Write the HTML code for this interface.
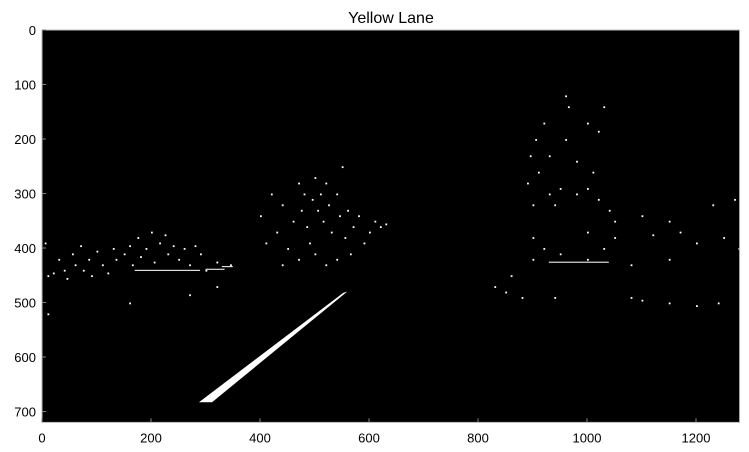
<!DOCTYPE html>
<html><head><meta charset="utf-8"><style>
html,body{margin:0;padding:0;background:#fff;}
svg{display:block;font-family:"Liberation Sans","DejaVu Sans",sans-serif;}
</style></head><body>
<svg id="chart" width="749" height="452" viewBox="0 0 749 452" xmlns="http://www.w3.org/2000/svg">
<text x="391" y="23" font-size="16" text-anchor="middle" fill="#000">Yellow Lane</text>
<g id="plot"></g>
</svg>
<script>
const imgW = 1280, imgH = 720;
const xTicks = [0,200,400,600,800,1000,1200];
const yTicks = [0,100,200,300,400,500,600,700];
const laneX = [288,312,560,553];
const laneY = [683,683,480,482];
const speckX = [5,10,20,30,40,45,55,60,70,75,85,90,100,110,120,130,135,150,160,165,175,180,190,200,205,215,225,230,240,250,260,270,280,290,300,320,345,10,160,270,320,
400,410,420,430,440,450,460,470,475,480,485,490,495,500,505,510,515,520,525,530,540,545,550,555,560,565,570,580,590,600,610,620,630,470,520,500,440,540,
960,965,1030,920,1000,905,960,1020,895,910,930,980,1010,890,930,950,980,1000,1020,900,940,1040,1100,1150,1230,1270,1278,1000,1050,1120,1170,1200,1250,950,1000,1030,1080,1150,900,860,830,850,880,940,1100,1150,1200,1240,1080,900,920,1050];
const speckY = [390,450,445,420,440,455,410,430,395,440,420,450,405,430,445,400,420,410,395,430,380,415,400,370,425,390,375,410,395,420,400,430,395,410,440,425,430,520,500,485,470,
340,390,300,370,320,400,350,280,330,300,360,390,310,270,330,300,350,280,320,370,300,340,250,380,330,410,360,340,390,370,350,360,355,420,430,410,430,420,
120,140,140,170,170,200,200,185,230,260,230,240,260,280,300,290,300,290,310,320,320,330,340,350,320,310,400,370,380,375,370,390,380,410,420,400,430,420,420,450,470,480,490,490,495,500,505,500,490,380,400,350];
const segX1 = [170,300,930,330];
const segX2 = [290,335,1040,350];
const segY = [440,438,425,433];

const X0 = 42, Y0 = 30, S = 0.545;
const sx = v => X0 + v*S;
const sy = v => Y0 + v*S;
const NS = 'http://www.w3.org/2000/svg';
const g = document.getElementById('plot');
function mk(tag, attrs){const e=document.createElementNS(NS,tag);for(const k in attrs)e.setAttribute(k,attrs[k]);g.appendChild(e);return e;}

const bg = mk('rect',{x:sx(0),y:sy(0),width:imgW*S,height:imgH*S,fill:'#000'});



const lane = mk('polygon',{points:laneX.map((v,i)=>sx(v)+','+sy(laneY[i])).join(' '),fill:'#fff'});



speckX.forEach((v,i)=>{
  const r = mk('rect',{x:sx(v),y:sy(speckY[i]),width:1.8,height:1.8,fill:'#fff'});
  
  
});
segX1.forEach((v,i)=>{
  const r = mk('rect',{x:sx(v),y:sy(segY[i]),width:(segX2[i]-v)*S,height:1.2,fill:'#ddd'});
  
  
});

const frame = mk('rect',{x:sx(0),y:sy(0),width:imgW*S,height:imgH*S,fill:'none',stroke:'#bbb','stroke-width':1});



xTicks.forEach(t=>{
  const x = sx(t);
  const l = mk('line',{x1:x,x2:x,y1:sy(imgH),y2:sy(imgH)-4,stroke:'#888','stroke-width':1});
  
  
  const tx = mk('text',{x:x,y:sy(imgH)+20,'font-size':13,'text-anchor':'middle',fill:'#000'});
  tx.textContent = t;
  
  
});
yTicks.forEach(t=>{
  const y = sy(t);
  const l = mk('line',{x1:sx(0),x2:sx(0)+4,y1:y,y2:y,stroke:'#888','stroke-width':1});
  
  
  const tx = mk('text',{x:sx(0)-6,y:y+5,'font-size':13,'text-anchor':'end',fill:'#000'});
  tx.textContent = t;
  
  
});
</script>
</body></html>
